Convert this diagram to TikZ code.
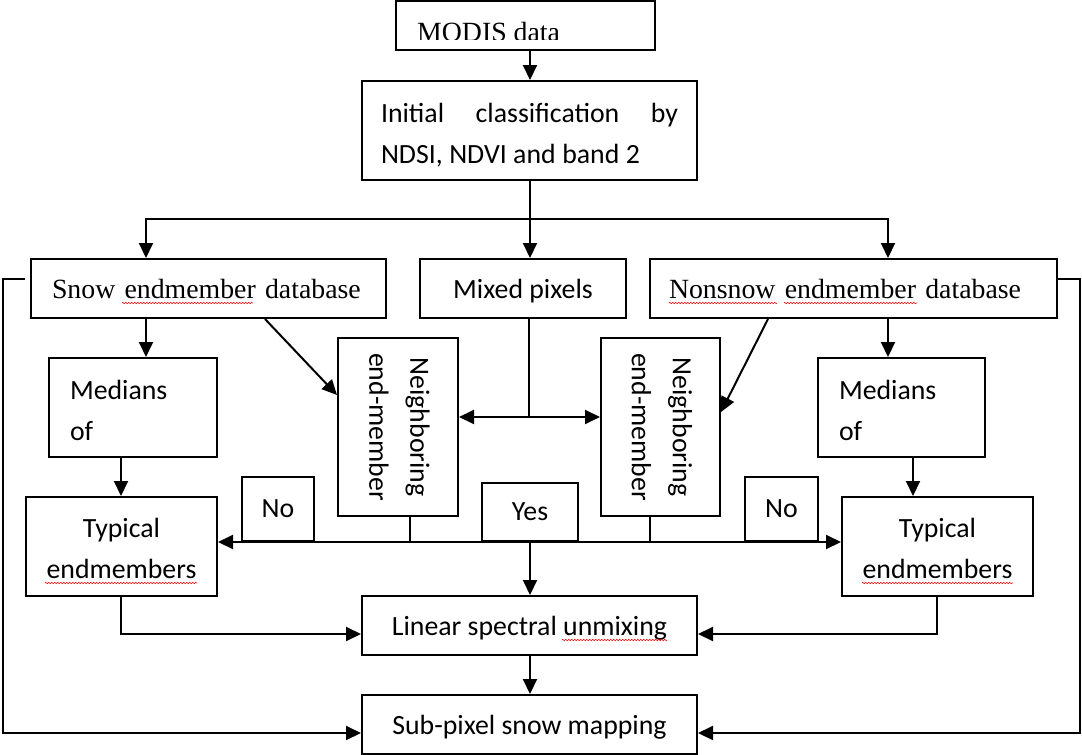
\documentclass[tikz,border=0pt]{standalone}
\usepackage{fontspec}
\usepackage{graphicx}
\setmainfont{Liberation Serif}
\newfontfamily\calfont{Carlito}
\usetikzlibrary{arrows.meta, decorations.pathmorphing}
\begin{document}
\begin{tikzpicture}[x=1pt, y=-1pt,
  box/.style={draw, line width=2pt, inner sep=0pt, font=\calfont\fontsize{27.8pt}{41pt}\selectfont},
  serifbox/.style={box, font=\rmfamily\fontsize{27.8pt}{41pt}\selectfont},
  seriftext/.style={inner sep=0pt, font=\rmfamily\fontsize{27.8pt}{41pt}\selectfont},
  conn/.style={line width=2pt},
  arr/.style={conn, -{Triangle[length=15pt,width=14pt]}},
  wavy/.style={draw=red, line width=0.6pt, decorate, decoration={zigzag, segment length=3pt, amplitude=0.8pt}}]
\useasboundingbox (0,0) rectangle (1082,755);

% boxes
\node[box, minimum width=259pt, minimum height=49pt] (modis) at (525.5,25.5) {};
\begin{scope}
  \clip (396,1) rectangle (655,39.3);
  \node[seriftext, anchor=base west] (modistext) at (417,41.6) {MODIS data};
\end{scope}
\node[box, minimum width=335pt, minimum height=99pt, text width=297pt, inner xsep=19pt, align=left, text depth=35pt] (init) at (529.5,130.5)
  {\hbox to 297pt{Initial\hfil classification\hfil by}\\\hbox to 259pt{NDSI,\hfil NDVI\hfil and\hfil band\hfil 2}};
\node[serifbox, minimum height=59pt, text width=313pt, inner xsep=21pt, align=left] (snow) at (208.5,288.5) {Snow endmember database};
\node[box, minimum width=206pt, minimum height=59pt, text depth=-1pt] (mixed) at (523,288.5) {Mixed pixels};
\node[serifbox, minimum height=59pt, text width=369pt, inner xsep=19pt, align=left] (nonsnow) at (853.5,288.5) {Nonsnow endmember database};

\node[box, minimum height=99pt, text width=126pt, inner xsep=21pt, align=left, text depth=35pt] (medL) at (133,407.5) {Medians\\of};
\node[box, minimum height=99pt, text width=125pt, inner xsep=21pt, align=left, text depth=35pt] (medR) at (901.5,407.5) {Medians\\of};

\node[box, minimum width=120pt, minimum height=178pt] (nbL) at (398,427)
  {\rotatebox{-90}{\begin{tabular}{@{}c@{}}Neighboring\\end-member\end{tabular}}};
\node[box, minimum width=119pt, minimum height=178pt] (nbR) at (660.5,427)
  {\rotatebox{-90}{\begin{tabular}{@{}c@{}}Neighboring\\end-member\end{tabular}}};

\node[box, minimum width=72pt, minimum height=64pt] (noL) at (278,509) {No};
\node[box, minimum width=96pt, minimum height=58pt, text depth=-3pt] (yes) at (530,512) {Yes};
\node[box, minimum width=73pt, minimum height=64pt] (noR) at (781.5,509) {No};

\node[box, minimum height=99pt, text width=191pt, align=center, text depth=37pt] (typL) at (121.5,546.5) {Typical\\endmembers};
\node[box, minimum height=99pt, text width=191pt, align=center, text depth=37pt] (typR) at (937.5,546.5) {Typical\\endmembers};

\node[box, minimum width=335pt, minimum height=59pt, text depth=-1pt] (lin) at (529.5,625.5) {Linear spectral unmixing};
\node[box, minimum width=335pt, minimum height=59pt, text depth=0pt] (sub) at (529.5,724.5) {Sub-pixel snow mapping};

% helper coordinates
\coordinate (j1) at (530,219);
\coordinate (j2) at (529,417);
\coordinate (iN) at ([xshift=0.5pt]init.north);
\coordinate (iS) at ([xshift=0.5pt]init.south);
\coordinate (sA) at ([xshift=-62.5pt]snow.south);
\coordinate (sN) at ([xshift=-62.5pt]snow.north);
\coordinate (nA) at ([xshift=34.5pt]nonsnow.south);
\coordinate (nN) at ([xshift=34.5pt]nonsnow.north);
\coordinate (tL) at ([xshift=-0.5pt]typL.north);
\coordinate (tLs) at ([xshift=-0.5pt]typL.south);
\coordinate (tR) at ([xshift=-24.5pt]typR.north);
\coordinate (tRs) at ([xshift=-0.5pt]typR.south);
\coordinate (bL) at ([xshift=12pt]nbL.south);
\coordinate (bR) at ([xshift=-10.5pt]nbR.south);
\coordinate (lS) at ([xshift=0.5pt]lin.south);
\coordinate (lo) at (3,279);
\coordinate (ro) at (1080,279);

% connectors
\draw[arr] (iN |- modis.south) -- (iN);
\draw[conn] (iS) -- (j1);
\draw[arr] (j1) -- (j1 |- mixed.north);
\draw[arr] (j1) -| (sN);
\draw[arr] (j1) -| (nN);

\draw[arr] (sA) -- (sA |- medL.north);
\draw[arr] ([xshift=56.5pt]snow.south) -- ([yshift=32pt]nbL.west);
\draw[arr] ([xshift=-85.5pt]nonsnow.south) -- ([yshift=15pt]nbR.east);
\draw[arr] (nA) -- (nA |- medR.north);

\draw[conn] ([xshift=6pt]mixed.south) -- (j2);
\draw[arr] (j2) -- (j2 -| nbL.east);
\draw[arr] (j2) -- (j2 -| nbR.west);

\draw[arr] (tL |- medL.south) -- (tL);
\draw[arr] (tR |- medR.south) -- (tR);

\draw[conn] (bL) -- (bL |- yes.south);
\draw[conn] (bR) -- (bR |- yes.south);
\draw[arr] (yes.south) -- (yes.south -| typL.east);
\draw[arr] (yes.south) -- (yes.south -| typR.west);
\draw[arr] (yes.south) -- (yes.south |- lin.north);

\draw[arr] (tLs) |- ([yshift=-8.5pt]lin.west);
\draw[arr] (tRs) |- ([yshift=-8.5pt]lin.east);
\draw[arr] (lS) -- (lS |- sub.north);

\draw[arr] ([shift={(-5pt,9.5pt)}]snow.west) -- (lo) |- ([yshift=-8.5pt]sub.west);
\draw[arr] ([yshift=9.5pt]nonsnow.east) -- (ro) |- ([yshift=-8.5pt]sub.east);

% spell-check underlines
\draw[wavy] (122,303) -- (253,303);
\draw[wavy] (669,303) -- (777,303);
\draw[wavy] (784,303) -- (917,303);
\draw[wavy] (562,640) -- (667,640);
\draw[wavy] (45,583) -- (197,583);
\draw[wavy] (862,583) -- (1013,583);
\end{tikzpicture}
\end{document}
